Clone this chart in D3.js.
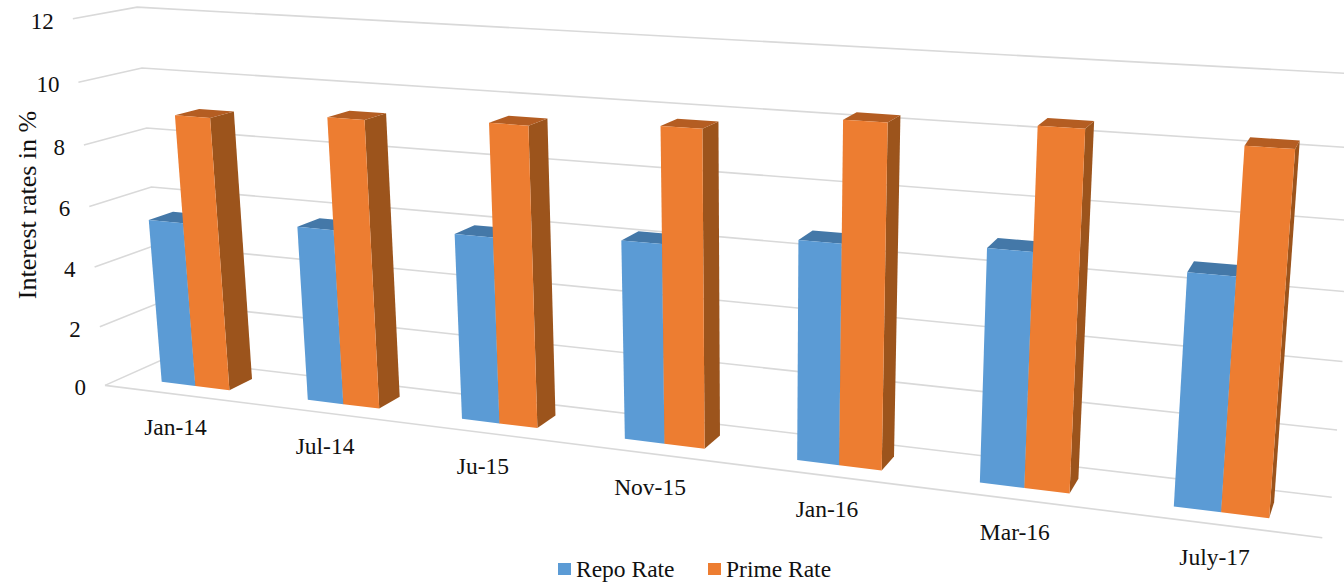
<!DOCTYPE html>
<html>
<head>
<meta charset="utf-8">
<script src="https://cdn.jsdelivr.net/npm/d3@7"></script>
<style>
  html, body { margin: 0; padding: 0; background: #fff; overflow: hidden; }
  text { font-family: "Liberation Serif", "Times New Roman", serif; fill: #111; }
</style>
</head>
<body>
<div id="chart"></div>
<script>
var categories = ["Jan-14", "Jul-14", "Ju-15", "Nov-15", "Jan-16", "Mar-16", "July-17"];
var repoRate = [5.47, 5.7, 5.93, 6.2, 6.68, 6.92, 6.73];
var primeRate = [8.97, 9.26, 9.45, 9.72, 10.26, 10.45, 10.28];
var seriesNames = ["Repo Rate", "Prime Rate"];
var yTicks = [0, 2, 4, 6, 8, 10, 12];

var width = 1344, height = 582;

// Box corners of the 3D plot: [across, up, depth] -> screen position
var frameCorners = [
    [0, 0, 0, 105, 386], [1, 0, 0, 1322, 538],
    [0, 1, 0, 73, 20],   [1, 1, 0, 1357, 90],
    [0, 0, 1, 165, 358], [1, 0, 1, 1332, 497],
    [0, 1, 1, 137, 6],   [1, 1, 1, 1365, 77]
];

// Gaussian elimination with pivoting
function solve(A, b) {
    var n = b.length;
    for (var i = 0; i < n; i++) {
        var piv = i;
        for (var r = i + 1; r < n; r++) {
            if (Math.abs(A[r][i]) > Math.abs(A[piv][i])) piv = r;
        }
        var tmp = A[i]; A[i] = A[piv]; A[piv] = tmp;
        var tb = b[i]; b[i] = b[piv]; b[piv] = tb;
        for (var r2 = i + 1; r2 < n; r2++) {
            var f = A[r2][i] / A[i][i];
            for (var c = i; c < n; c++) A[r2][c] -= f * A[i][c];
            b[r2] -= f * b[i];
        }
    }
    var x = new Array(n);
    for (var k = n - 1; k >= 0; k--) {
        var s = b[k];
        for (var j = k + 1; j < n; j++) s -= A[k][j] * x[j];
        x[k] = s / A[k][k];
    }
    return x;
}

// Least squares fit of the 3x4 camera matrix from the box corners
function fitCamera(corners) {
    var rows = [], rhs = [];
    corners.forEach(function (d) {
        var X = d[0], Y = d[1], Z = d[2], x = d[3] / 1000, y = d[4] / 1000;
        rows.push([X, Y, Z, 1, 0, 0, 0, 0, -x * X, -x * Y, -x * Z]); rhs.push(x);
        rows.push([0, 0, 0, 0, X, Y, Z, 1, -y * X, -y * Y, -y * Z]); rhs.push(y);
    });
    var N = d3.range(11).map(function (i) {
        return d3.range(11).map(function (j) {
            return d3.sum(rows, function (r) { return r[i] * r[j]; });
        });
    });
    var t = d3.range(11).map(function (i) {
        return d3.sum(rows, function (r, k) { return r[i] * rhs[k]; });
    });
    return solve(N, t);
}

var cam = fitCamera(frameCorners);

function project(u, v, w) {
    var q = cam[8] * u + cam[9] * v + cam[10] * w + 1;
    return [
        1000 * (cam[0] * u + cam[1] * v + cam[2] * w + cam[3]) / q,
        1000 * (cam[4] * u + cam[5] * v + cam[6] * w + cam[7]) / q
    ];
}

// Scales in box units, the camera turns them into pixels
var yScale = d3.scaleLinear().domain([0, 12]).range([0, 1]);
var xScale = d3.scaleBand().domain(categories).range([0, 1]).paddingInner(0.53).paddingOuter(0.27);
var seriesScale = d3.scaleBand().domain(seriesNames).range([0, xScale.bandwidth()]);
var depthScale = d3.scaleLinear().domain([0, 1]).range([0.3, 0.7]);

var colors = d3.scaleOrdinal().domain(seriesNames).range(["#5B9BD5", "#ED7D31"]);
var topColors = d3.scaleOrdinal().domain(seriesNames).range(["#4478A8", "#B45D22"]);
var sideColors = d3.scaleOrdinal().domain(seriesNames).range(["#3F6F9C", "#9C541C"]);

var svg = d3.select("#chart").append("svg")
    .attr("width", width)
    .attr("height", height);

var line = d3.line();
var gridColor = "#d9d9d9";

// Walls and floor: the L shaped gridlines, left wall then back wall
var grid = svg.append("g").attr("fill", "none").attr("stroke", gridColor).attr("stroke-width", 1.6);
grid.selectAll("path.wall")
    .data(yTicks)
    .enter()
    .append("path")
    .attr("class", "wall")
    .attr("d", function (t) {
        var v = yScale(t);
        return line([project(0, v, 0), project(0, v, 1), project(1, v, 1)]);
    });
grid.append("path").attr("d", line([project(0, 0, 0), project(1, 0, 0)]));

// Flatten to one list of bars, drawn left to right so later boxes cover earlier ones
var bars = [];
categories.forEach(function (c, i) {
    seriesNames.forEach(function (s, j) {
        bars.push({ category: c, series: s, value: (j == 0 ? repoRate : primeRate)[i] });
    });
});

function barFaces(d) {
    var u0 = xScale(d.category) + seriesScale(d.series);
    var u1 = u0 + seriesScale.bandwidth();
    var v = yScale(d.value);
    var w0 = depthScale(0), w1 = depthScale(1);
    return [
        { fill: sideColors(d.series), pts: [project(u1, 0, w0), project(u1, 0, w1), project(u1, v, w1), project(u1, v, w0)] },
        { fill: topColors(d.series), pts: [project(u0, v, w0), project(u1, v, w0), project(u1, v, w1), project(u0, v, w1)] },
        { fill: colors(d.series), pts: [project(u0, 0, w0), project(u1, 0, w0), project(u1, v, w0), project(u0, v, w0)] }
    ];
}

svg.append("g").selectAll("g")
    .data(bars)
    .enter()
    .append("g")
    .selectAll("path")
    .data(barFaces)
    .enter()
    .append("path")
    .attr("d", function (f) { return line(f.pts) + "Z"; })
    .attr("fill", function (f) { return f.fill; });

// Value labels sit left of the front edge of the side wall
svg.append("g").selectAll("text")
    .data(yTicks)
    .enter()
    .append("text")
    .attr("x", function (t) { return project(0, yScale(t), 0)[0] - 19; })
    .attr("y", function (t) { return project(0, yScale(t), 0)[1] + 10; })
    .attr("text-anchor", "end")
    .style("font-size", "23px")
    .text(function (t) { return t; });

// Category labels hang under the front floor edge
svg.append("g").selectAll("text")
    .data(categories)
    .enter()
    .append("text")
    .attr("x", function (c) { return project(xScale(c) + xScale.bandwidth() / 2, 0, 0)[0] - 2; })
    .attr("y", function (c) { return project(xScale(c) + xScale.bandwidth() / 2, 0, 0)[1] + 41; })
    .attr("text-anchor", "middle")
    .style("font-size", "23.5px")
    .text(function (c) { return c; });

svg.append("text")
    .attr("transform", "translate(36,205) rotate(-90)")
    .attr("text-anchor", "middle")
    .style("font-size", "26px")
    .text("Interest rates in %");

// Legend
var legendX = d3.scaleOrdinal().domain(seriesNames).range([558, 708]);
var legend = svg.append("g").selectAll("g")
    .data(seriesNames)
    .enter()
    .append("g")
    .attr("transform", function (s) { return "translate(" + legendX(s) + ",563)"; });
legend.append("rect")
    .attr("width", 13)
    .attr("height", 12)
    .attr("fill", function (s) { return colors(s); });
legend.append("text")
    .attr("x", 18)
    .attr("y", 14)
    .style("font-size", "23.5px")
    .text(function (s) { return s; });
</script>
</body>
</html>
